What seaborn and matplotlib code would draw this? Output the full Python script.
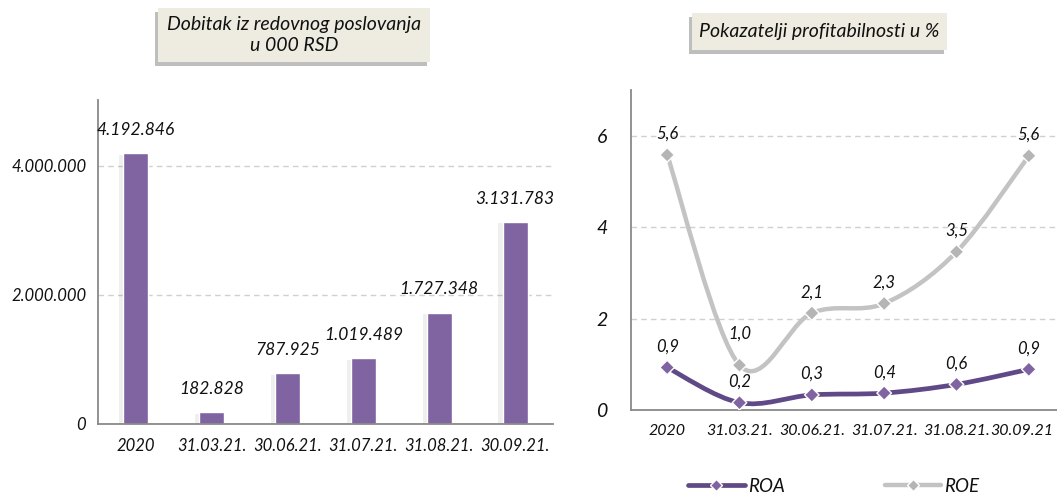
import seaborn as sns
import matplotlib.pyplot as plt
import matplotlib.patheffects as pe
import matplotlib.transforms as mtransforms
from matplotlib.patches import Rectangle, PathPatch
from matplotlib.path import Path
from matplotlib.lines import Line2D
import pandas as pd

bar_categories = ['2020', '31.03.21.', '30.06.21.', '31.07.21.', '31.08.21.', '30.09.21.']
profit = [4192846, 182828, 787925, 1019489, 1727348, 3131783]

line_categories = ['2020', '31.03.21.', '30.06.21.', '31.07.21.', '31.08.21.', '30.09.21']
roa = [0.93, 0.16, 0.33, 0.37, 0.56, 0.89]
roe = [5.58, 0.98, 2.12, 2.33, 3.46, 5.56]

sns.set_style('white')
plt.rcParams['font.family'] = ['Lato', 'DejaVu Sans']
plt.rcParams['font.style'] = 'italic'
plt.rcParams['text.color'] = '#111111'

fig = plt.figure(figsize=(10.57, 4.95), dpi=100)

axis_grey = '#898989'
grid_grey = '#D0D0D0'
purple = '#8064A2'
dark_purple = '#5F4A87'
light_grey = '#C3C3C3'


def dots(v):
    return f'{v:,}'.replace(',', '.')


def style_axes(ax, size):
    sns.despine(ax=ax)
    for s in ('left', 'bottom'):
        ax.spines[s].set_color(axis_grey)
        ax.spines[s].set_linewidth(1.3)
    ax.yaxis.grid(True, linestyle=(0, (4, 3)), color=grid_grey, linewidth=1)
    ax.set_axisbelow(True)
    ax.tick_params(axis='both', direction='out', length=5, color=axis_grey,
                   labelsize=size, width=1.2, labelcolor='#111111')
    ax.set_xlabel('')
    ax.set_ylabel('')


# ---- left: bar chart ----
ax1 = fig.add_axes([98 / 1057, 1 - 424 / 495, 455 / 1057, 324 / 495])
df_bar = pd.DataFrame({'cat': bar_categories, 'profit': profit})
sns.barplot(data=df_bar, x='cat', y='profit', color=purple, saturation=1,
            width=0.33, ax=ax1)
for p in ax1.patches:
    p.set_path_effects([pe.SimplePatchShadow(offset=(-3, -1), alpha=0.07),
                        pe.Normal()])
ax1.set_ylim(0, 5020000)
ax1.set_xlim(-0.5, 5.5)
ax1.set_yticks([0, 2000000, 4000000])
ax1.set_yticklabels([dots(v) for v in [0, 2000000, 4000000]])
style_axes(ax1, 12)
ax1.set_xticks([i + 0.5 for i in range(-1, 6)], minor=True)
ax1.tick_params(axis='x', which='major', length=0, pad=10)
ax1.tick_params(axis='x', which='minor', length=6, color=axis_grey, width=1.2)
for i, v in enumerate(profit):
    ax1.annotate(dots(v), (i, v), xytext=(0, 11), textcoords='offset points',
                 ha='center', va='bottom', fontsize=12.5, style='italic')

# ---- right: line chart ----
ax2 = fig.add_axes([631 / 1057, 1 - 410 / 495, 434 / 1057, 320 / 495])
ax2.set_xlim(-0.5, 5.5)
ax2.set_ylim(0, 7)


def smooth_path(xs, ys):
    pts = list(zip(xs, ys))
    ext = [pts[0]] + pts + [pts[-1]]
    verts = [pts[0]]
    codes = [Path.MOVETO]
    for i in range(1, len(ext) - 2):
        p0, p1, p2, p3 = ext[i - 1], ext[i], ext[i + 1], ext[i + 2]
        c1 = (p1[0] + (p2[0] - p0[0]) / 6, p1[1] + (p2[1] - p0[1]) / 6)
        c2 = (p2[0] - (p3[0] - p1[0]) / 6, p2[1] - (p3[1] - p1[1]) / 6)
        verts += [c1, c2, p2]
        codes += [Path.CURVE4] * 3
    return Path(verts, codes)


xs = list(range(len(line_categories)))
ax2.add_patch(PathPatch(smooth_path(xs, roa), fill=False, edgecolor=dark_purple,
                        linewidth=3.4, capstyle='round', zorder=3))
ax2.add_patch(PathPatch(smooth_path(xs, roe), fill=False, edgecolor=light_grey,
                        linewidth=3.2, capstyle='round', zorder=3))
df_line = pd.DataFrame({'x': xs * 2, 'v': roa + roe,
                        'series': ['ROA'] * 6 + ['ROE'] * 6})
sns.scatterplot(data=df_line, x='x', y='v', hue='series', marker='D', s=55,
                palette={'ROA': purple, 'ROE': '#B5B5B5'}, edgecolor='white',
                linewidth=1, legend=False, zorder=4, ax=ax2)
ax2.set_xlim(-0.5, 5.5)
ax2.set_ylim(0, 7)
ax2.set_xticks(xs)
ax2.set_xticklabels(line_categories)
ax2.set_yticks([0, 2, 4, 6])
style_axes(ax2, 11.5)
ax2.set_xticks([i + 0.5 for i in range(-1, 6)], minor=True)
ax2.tick_params(axis='x', which='major', length=0, pad=10)
ax2.tick_params(axis='x', which='minor', length=6, color=axis_grey, width=1.2)
ax2.tick_params(axis='y', pad=12, labelsize=14)
# nudge the last label so it stays inside the figure
last = ax2.get_xticklabels()[-1]
last.set_transform(last.get_transform() +
                   mtransforms.ScaledTranslation(-5 / 72, 0, fig.dpi_scale_trans))
for series in (roa, roe):
    for i, v in enumerate(series):
        off = 23 if (series is roe and i == 1) else 15
        ax2.annotate(f'{v:.1f}'.replace('.', ','), (i, v), xytext=(0, off),
                     textcoords='offset points', ha='center', va='center',
                     fontsize=12, style='italic')

# legend
handles = [Line2D([], [], color=dark_purple, lw=3.4, marker='D', markersize=6,
                  markerfacecolor=purple, markeredgecolor='white'),
           Line2D([], [], color=light_grey, lw=3.2, marker='D', markersize=6,
                  markerfacecolor='#B5B5B5', markeredgecolor='white')]
fig.legend(handles, ['ROA', 'ROE'], loc='center', bbox_to_anchor=(834 / 1057, 1 - 486 / 495),
           ncol=2, frameon=False, fontsize=13.5, handlelength=3.0, columnspacing=5.3,
           handletextpad=0.2)


# title boxes
def title_box(x0, y0, x1, y1, text):
    w, h = (x1 - x0) / 1057, (y1 - y0) / 495
    fx, fy = x0 / 1057, 1 - y1 / 495
    fig.patches.append(Rectangle((fx - 3 / 1057, fy - 4 / 495), w, h, transform=fig.transFigure,
                                 facecolor='#8A8A8A', edgecolor='none', alpha=0.55,
                                 path_effects=[pe.SimplePatchShadow(offset=(0, 0), alpha=0.3)]))
    fig.patches.append(Rectangle((fx, fy), w, h, transform=fig.transFigure,
                                 facecolor='#EEECE1', edgecolor='none'))
    fig.text(fx + w / 2, fy + h / 2, text, ha='center', va='center', fontsize=14,
             style='italic', linespacing=1.3)


title_box(158, 8, 430, 62, 'Dobitak iz redovnog poslovanja\nu 000 RSD')
title_box(692, 13, 947, 50, 'Pokazatelji profitabilnosti u %')

fig.savefig('out.png', dpi=100)
